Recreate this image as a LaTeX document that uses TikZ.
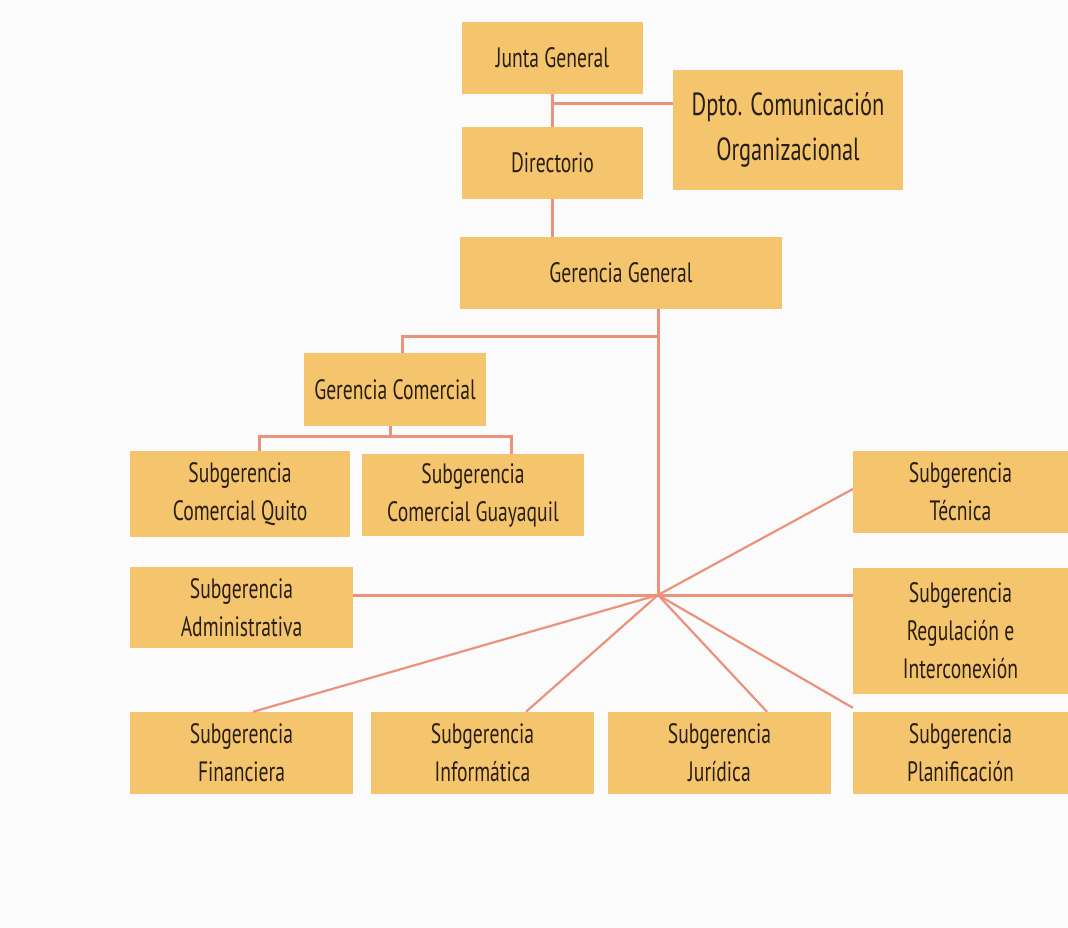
\documentclass[tikz,border=0pt]{standalone}
\usepackage{fontspec}
\setmainfont[FakeStretch=0.7]{PT Sans}
\definecolor{boxfill}{RGB}{245,197,110}
\definecolor{linec}{RGB}{234,146,122}
\definecolor{txt}{RGB}{40,30,20}
\definecolor{bg}{RGB}{251,251,251}
\tikzset{
  box/.style={rectangle, fill=boxfill, inner sep=0pt, align=center, text=txt,
    font=\fontsize{28}{38}\selectfont},
  conn/.style={draw=linec, line width=3pt},
  diag/.style={draw=linec, line width=2.2pt},
}
\begin{document}
\begin{tikzpicture}[x=1pt,y=-1pt]
\fill[bg] (0,0) rectangle (1068,928);
\useasboundingbox (0,0) rectangle (1068,928);
% boxes
\node[box, minimum width=181pt, minimum height=72pt] (jg) at (552.5,58) {Junta General};
\node[box, minimum width=230pt, minimum height=120pt, font=\fontsize{32}{45}\selectfont] (dp) at (788,130) {Dpto. Comunicación\\Organizacional};
\node[box, minimum width=181pt, minimum height=72pt] (dir) at (552.5,163) {Directorio};
\node[box, minimum width=322pt, minimum height=72pt] (gg) at (621,273) {Gerencia General};
\node[box, minimum width=182pt, minimum height=73pt] (gc) at (395,389.5) {Gerencia Comercial};
\node[box, minimum width=220pt, minimum height=86pt] (sq) at (240,494) {Subgerencia\\Comercial Quito};
\node[box, minimum width=222pt, minimum height=82pt] (sg) at (473,495) {Subgerencia\\Comercial Guayaquil};
\node[box, minimum width=215pt, minimum height=82pt] (st) at (960.5,492) {Subgerencia\\Técnica};
\node[box, minimum width=223pt, minimum height=81pt] (sa) at (241.5,607.5) {Subgerencia\\Administrativa};
\node[box, minimum width=215pt, minimum height=126pt] (sr) at (960.5,631) {Subgerencia\\Regulación e\\Interconexión};
\node[box, minimum width=223pt, minimum height=82pt] (sf) at (241.5,753) {Subgerencia\\Financiera};
\node[box, minimum width=223pt, minimum height=82pt] (si) at (482.5,753) {Subgerencia\\Informática};
\node[box, minimum width=223pt, minimum height=82pt] (sj) at (719.5,753) {Subgerencia\\Jurídica};
\node[box, minimum width=215pt, minimum height=82pt] (sp) at (960.5,753) {Subgerencia\\Planificación};
% coordinates
\coordinate (j1) at (552.5,104);
\coordinate (hub) at (658,595);
\coordinate (c1) at (658,336);
\coordinate (c2) at (402,336);
\coordinate (c3) at (390,436);
\coordinate (c4) at (259,436);
\coordinate (c5) at (511,436);
% connectors
\draw[conn] (jg.south) -- (dir.north);
\draw[conn] (j1) -- (dp.west |- j1);
\draw[conn] (dir.south) -- (dir.south |- gg.north);
\draw[conn] (gg.south -| hub) -- (hub);
\draw[conn] (c1) -- (c2) -- (c2 |- gc.north);
\draw[conn] (gc.south -| c3) -- (c3);
\draw[conn] (c4 |- sq.north) -- (c4) -- (c5) -- (c5 |- sg.north);
\draw[conn] (sa.east |- hub) -- (hub) -- (sr.west |- hub);
\draw[diag] (hub) -- ([yshift=3pt]st.west);
\draw[diag] (hub) -- ([xshift=11.5pt]sf.north);
\draw[diag] (hub) -- ([xshift=43.5pt]si.north);
\draw[diag] (hub) -- ([xshift=47.5pt]sj.north);
\draw[diag] (hub) -- ([yshift=4pt]sp.north west);
\end{tikzpicture}
\end{document}
